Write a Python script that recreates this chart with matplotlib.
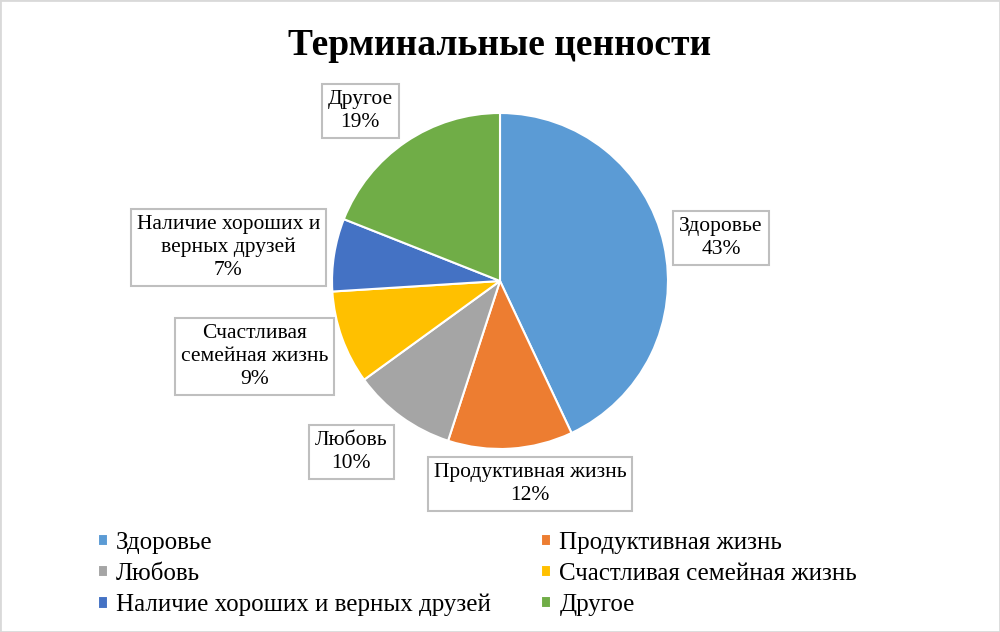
import numpy as np
import matplotlib.pyplot as plt
from matplotlib.patches import Rectangle

# data
categories = ['Здоровье', 'Продуктивная жизнь', 'Любовь',
              'Счастливая семейная жизнь', 'Наличие хороших и верных друзей', 'Другое']
values = [43, 12, 10, 9, 7, 19]
box_labels = ['Здоровье', 'Продуктивная жизнь', 'Любовь',
              'Счастливая\nсемейная жизнь', 'Наличие хороших и\nверных друзей', 'Другое']
colors = ['#5B9BD5', '#ED7D31', '#A5A5A5', '#FFC000', '#4472C4', '#70AD47']
# label placement: distance (in radii) and angular nudge (deg) from slice middle
label_dist = [1.34, 1.22, 1.35, 1.53, 1.63, 1.31]
label_nudge = [-1.5, 4.8, -5.0, -2.7, 2.0, 5.2]

plt.rcParams['font.family'] = ['Liberation Serif', 'DejaVu Serif']

fig = plt.figure(figsize=(10, 6.32), dpi=100)
fig.patches.append(Rectangle((0, 0), 1, 1, transform=fig.transFigure, fill=False,
                             edgecolor='#d9d9d9', linewidth=2))

ax = fig.add_axes([0.332, 0.2896, 0.336, 0.5316])
wedges, _ = ax.pie(values, colors=colors, startangle=90, counterclock=False,
                   wedgeprops=dict(edgecolor='white', linewidth=1.5))
ax.set_xlim(-1, 1)
ax.set_ylim(-1, 1)

for w, lab, v, d, n in zip(wedges, box_labels, values, label_dist, label_nudge):
    ang = np.deg2rad((w.theta1 + w.theta2) / 2 + n)
    ax.text(d * np.cos(ang), d * np.sin(ang), f'{lab}\n{v}%', ha='center', va='center',
            fontsize=15.5, linespacing=1.27, clip_on=False,
            bbox=dict(boxstyle='square,pad=0.28', facecolor='white', edgecolor='#bfbfbf', linewidth=1.5))

fig.suptitle('Терминальные ценности', fontsize=27, fontweight='bold', y=0.955)

order = [0, 2, 4, 1, 3, 5]
fig.legend([wedges[i] for i in order], [categories[i] for i in order],
           ncol=2, loc='lower left', bbox_to_anchor=(0.075, -0.011), frameon=False,
           fontsize=18, handlelength=0.4, handleheight=0.4, handletextpad=0.35,
           columnspacing=1.98, labelspacing=0.36)

fig.savefig('out.png', dpi=100)
